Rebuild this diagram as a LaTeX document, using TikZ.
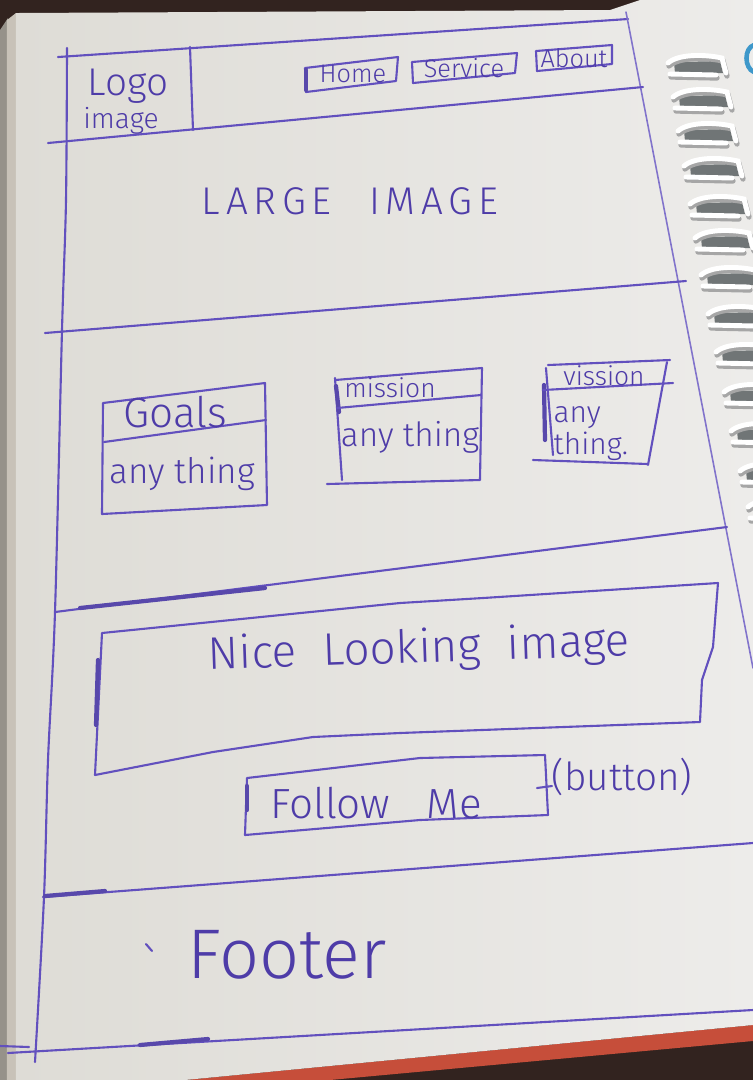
\documentclass[tikz,border=0pt]{standalone}
\usepackage{fontspec}
\setmainfont{Fira Sans}[UprightFont=* Light]
\definecolor{ink}{RGB}{98,80,190}
\definecolor{inktext}{RGB}{78,60,168}
\definecolor{paperL}{RGB}{222,220,214}
\definecolor{paperR}{RGB}{237,236,234}
\definecolor{desk}{RGB}{50,35,31}
\definecolor{cover}{RGB}{198,78,58}
\definecolor{stack}{RGB}{200,194,184}
\definecolor{slot}{RGB}{112,117,118}
\definecolor{ringblue}{RGB}{62,152,202}
\begin{document}
\begin{tikzpicture}[x=0.1mm,y=-0.1mm,
  ink/.style={draw=ink,line width=0.6pt,line cap=round,line join=round},
  thinink/.style={draw=ink!80,line width=0.45pt,line cap=round},
  heavyink/.style={draw=ink!90!black,line width=1.2pt,line cap=round},
  hand/.style={text=inktext,inner sep=0pt,anchor=center},
  wire/.style={draw=white,line width=1.4pt,line cap=round},
  wireshade/.style={draw=black!35,line width=1.5pt,line cap=round},
]
\useasboundingbox (0,0) rectangle (753,1080);

% desk, page stack, cover edge and the sheet itself
\fill[desk] (0,0) rectangle (753,1080);
\fill[stack!75!black] (0,30) -- (8,18) -- (8,1080) -- (0,1080) -- cycle;
\fill[stack] (7,20) -- (16,13) -- (16,1080) -- (7,1080) -- cycle;
\fill[cover] (185,1080) -- (753,1025) -- (753,1041) -- (330,1080) -- cycle;
\shade[left color=paperL,right color=paperR]
  (16,13) -- (610,10) -- (640,0) -- (753,0) -- (753,1025) -- (185,1080) -- (16,1080) -- cycle;

% spiral binding
\foreach \x/\y in {670/66,675/100,680/134,686/169,692/207,697/241,703/278,
                   710/317,718/355,726/395,733/434,742/474,750/510}{
  \fill[slot] (\x+4,\y-4) -- (\x+50,\y-5) -- (\x+53,\y+7) -- (\x+5,\y+7) -- cycle;
  \draw[wireshade] (\x-1,\y) .. controls (\x+9,\y-9) and (\x+35,\y-9) .. (\x+53,\y-5) -- (\x+57,\y+10);
  \draw[wireshade] (\x+1,\y+11) -- (\x+47,\y+12);
  \draw[wire] (\x-2,\y-3) .. controls (\x+8,\y-12) and (\x+34,\y-12) .. (\x+52,\y-8) -- (\x+56,\y+7);
  \draw[wire] (\x,\y+8) -- (\x+46,\y+9);
}
\draw[ringblue,line width=1.3pt] (754,45) .. controls (744,48) and (744,68) .. (754,72);

% page frame and section rules
\draw[ink] (58,57) -- (628,19);
\draw[ink] plot[smooth] coordinates {(67,48) (66,200) (62,330) (55,612) (48,760) (44,897) (35,1062)};
\draw[thinink] (626,12) -- (753,668);
\draw[ink] (48,143) -- (643,87);
\draw[ink] (45,333) -- (686,281);
\draw[ink] (55,612) -- (727,527);
\draw[heavyink] (80,608) -- (265,588);
\draw[ink] (43,897) -- (753,843);
\draw[heavyink] (45,896) -- (105,891);
\draw[ink] (8,1053) -- (753,1010);
\draw[heavyink] (140,1045) -- (208,1039);
\draw[ink] (0,1046) -- (29,1047);

% header: logo block and navigation buttons
\draw[ink] (190,47) -- (193,130);
\node[hand,font=\fontsize{11}{13}\selectfont] (logo) at (128,86) {Logo};
\node[hand,font=\fontsize{8}{10}\selectfont] (logoimg) at (121,121) {image};

\draw[ink] (305,68) -- (398,57) -- (396,81) -- (306,92) -- cycle;
\draw[heavyink] (306,70) -- (306,90);
\node[hand,font=\fontsize{7.2}{9}\selectfont] (home) at (353,74) {Home};
\draw[ink] (412,62) -- (517,53) -- (515,73) -- (413,83) -- cycle;
\node[hand,font=\fontsize{7.2}{9}\selectfont] (service) at (464,68) {Service};
\draw[ink] (536,51) -- (612,45) -- (612,64) -- (537,71) -- cycle;
\node[hand,font=\fontsize{7.2}{9}\selectfont] (about) at (574,58) {About};

% hero area
\node[hand,font=\fontsize{11}{13}\selectfont\addfontfeatures{LetterSpace=15}] (hero) at (350,201)
  {LARGE\hspace{6pt} IMAGE};

% three cards
\draw[ink] (103,403) -- (265,383) -- (267,505) -- (102,514) -- cycle;
\draw[ink] (104,442) -- (266,420);
\node[hand,font=\fontsize{12}{14}\selectfont] (goals) at (175,412) {Goals};
\node[hand,font=\fontsize{10}{12}\selectfont] (goalstxt) at (182,474) {any thing};

\draw[ink] (335,380) -- (482,368) -- (480,480) -- (327,484);
\draw[ink] (335,378) -- (342,480);
\draw[heavyink] (336,386) -- (339,412);
\draw[ink] (337,408) -- (481,395);
\node[hand,font=\fontsize{7.5}{9}\selectfont] (mission) at (390,388) {mission};
\node[hand,font=\fontsize{9.5}{11}\selectfont] (missiontxt) at (410,437) {any thing};

\draw[ink] (548,365) -- (670,360);
\draw[ink] (667,362) -- (648,465);
\draw[ink] (533,460) -- (648,464);
\draw[ink] (546,368) -- (553,455);
\draw[heavyink] (544,385) -- (545,440);
\draw[ink] (543,390) -- (673,383);
\node[hand,font=\fontsize{7.5}{9}\selectfont] (vission) at (604,376) {vission};
\node[hand,font=\fontsize{8.5}{7.5}\selectfont,align=left,anchor=west] (vissiontxt) at (553,434)
  {any\\thing.};

% feature image and button
\draw[ink] (102,633) -- (400,603) -- (483,598) -- (718,583)
  -- (713,647) -- (702,680) -- (700,722)
  -- (400,733) -- (313,737) -- (213,752) -- (95,775) -- cycle;
\draw[heavyink] (98,660) -- (96,725);
\node[hand,font=\fontsize{13}{15}\selectfont,rotate=2] (nice) at (419,650)
  {Nice\hspace{4pt} Looking\hspace{4pt} image};

\draw[ink] (247,778) -- (420,758) -- (545,755) -- (548,815)
  -- (420,820) -- (245,835) -- cycle;
\draw[heavyink] (247,786) -- (247,810);
\draw[ink] (537,788) -- (552,786);
\node[hand,font=\fontsize{12}{14}\selectfont] (follow) at (376,803) {Follow\hspace{7pt} Me};
\node[hand,font=\fontsize{11}{13}\selectfont] (btn) at (622,777) {(button)};

% footer
\draw[ink] (146,944) -- (152,951);
\node[hand,font=\fontsize{20}{24}\selectfont] (footer) at (287,955) {Footer};
\end{tikzpicture}
\end{document}
